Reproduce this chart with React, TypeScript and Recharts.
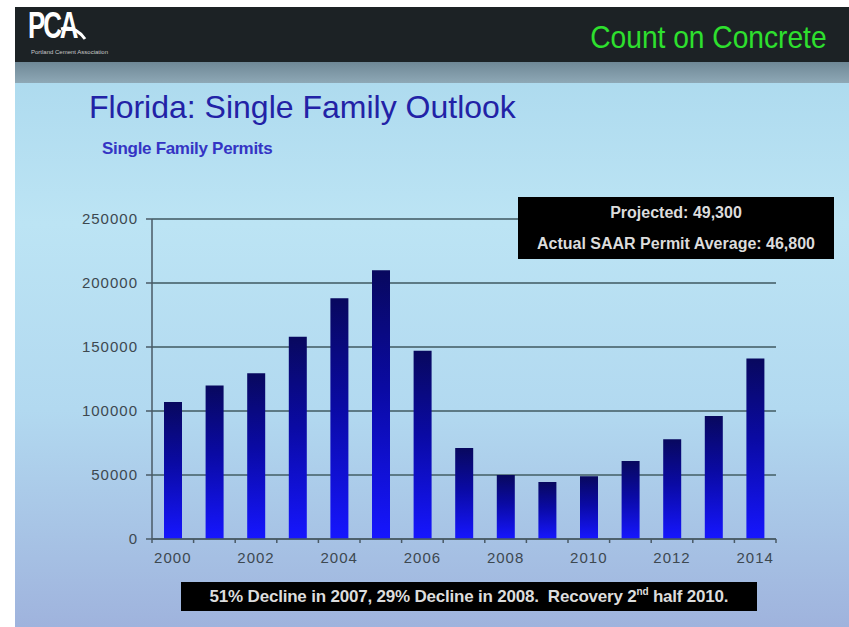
import { BarChart, Bar, XAxis, YAxis, CartesianGrid } from "recharts";

const years = [
  "2000", "2001", "2002", "2003", "2004", "2005", "2006", "2007",
  "2008", "2009", "2010", "2011", "2012", "2013", "2014",
];
const permits = [
  107000, 120000, 129500, 158000, 188000, 210000, 147000, 71000,
  50000, 44500, 49000, 61000, 78000, 96000, 141000,
];
const yTicks = [0, 50000, 100000, 150000, 200000, 250000];

const data = years.map((year, i) => ({ year, permits: permits[i] }));

const axisColor = "#4a5a66";
const labelColor = "#3d4850";
const font = "'Liberation Sans', Arial, sans-serif";

function YearTick(props: any) {
  const { x, y, payload, index } = props;
  const half = payload?.offset ?? 20.8;
  const last = index === years.length - 1;
  return (
    <g>
      <line x1={x - half} x2={x - half} y1={y} y2={y + 4} stroke={axisColor} strokeWidth={1.5} />
      {last && (
        <line x1={x + half} x2={x + half} y1={y} y2={y + 4} stroke={axisColor} strokeWidth={1.5} />
      )}
      {index % 2 === 0 && (
        <text
          x={x}
          y={y + 24}
          textAnchor="middle"
          fill={labelColor}
          fontSize={15}
          letterSpacing={1}
          fontFamily={font}
        >
          {payload.value}
        </text>
      )}
    </g>
  );
}

function Header() {
  return (
    <div style={{ position: "absolute", left: 0, top: 0, width: 834, height: 76 }}>
      <div style={{ position: "absolute", left: 0, top: 0, width: 834, height: 55, background: "#1c2225" }} />
      <div
        style={{
          position: "absolute",
          left: 0,
          top: 55,
          width: 834,
          height: 21,
          background: "linear-gradient(180deg, #6f8896 0%, #8ea8b6 100%)",
        }}
      />
      <div
        style={{
          position: "absolute",
          left: 13,
          top: 0,
          color: "#ffffff",
          fontFamily: font,
          fontWeight: 700,
          fontSize: 36,
          letterSpacing: -3,
          lineHeight: "38px",
          transform: "scaleX(0.72)",
          transformOrigin: "left top",
        }}
      >
        PCA
      </div>
      <svg style={{ position: "absolute", left: 44, top: 14 }} width={40} height={24}>
        <path d="M2 8 Q16 4 26 18" stroke="#ffffff" strokeWidth={3} fill="none" />
      </svg>
      <div
        style={{
          position: "absolute",
          left: 16,
          top: 42,
          color: "#c8c8c8",
          fontFamily: font,
          fontSize: 6,
          whiteSpace: "nowrap",
        }}
      >
        Portland Cement Association
      </div>
      <div
        style={{
          position: "absolute",
          right: 22,
          top: 12,
          color: "#2ee02e",
          fontFamily: font,
          fontSize: 32,
          lineHeight: "36px",
          whiteSpace: "nowrap",
          transform: "scaleX(0.88)",
          transformOrigin: "right top",
        }}
      >
        Count on Concrete
      </div>
    </div>
  );
}

export default function App() {
  return (
    <div
      style={{
        position: "absolute",
        left: 0,
        top: 0,
        width: 849,
        height: 627,
        background: "#ffffff",
        overflow: "hidden",
      }}
    >
      <div
        style={{
          position: "absolute",
          left: 15,
          top: 7,
          width: 834,
          height: 620,
          background:
            "linear-gradient(180deg, #a7d6ec 0%, #bce4f4 35%, #b2d9f0 65%, #9fb3dd 100%)",
        }}
      >
        <Header />
        <div
          style={{
            position: "absolute",
            left: 74,
            top: 82,
            color: "#2222a6",
            fontFamily: font,
            fontSize: 32,
            whiteSpace: "nowrap",
          }}
        >
          Florida: Single Family Outlook
        </div>
        <div
          style={{
            position: "absolute",
            left: 87,
            top: 132,
            color: "#3434c4",
            fontFamily: font,
            fontWeight: 700,
            fontSize: 17,
            letterSpacing: -0.3,
            whiteSpace: "nowrap",
          }}
        >
          Single Family Permits
        </div>
      </div>

      <div style={{ position: "absolute", left: 0, top: 0 }}>
        <BarChart
          width={849}
          height={627}
          data={data}
          margin={{ top: 219, right: 73, left: 0, bottom: 58 }}
        >
          <defs>
            <linearGradient id="barFill" x1="0" y1="0" x2="0" y2="1">
              <stop offset="0%" stopColor="#08085e" />
              <stop offset="45%" stopColor="#0a0aa4" />
              <stop offset="100%" stopColor="#1616ff" />
            </linearGradient>
          </defs>
          <CartesianGrid vertical={false} stroke="#5d7a85" strokeWidth={2} />
          <XAxis
            dataKey="year"
            interval={0}
            height={30}
            tickSize={0}
            tickMargin={0}
            tickLine={false}
            axisLine={{ stroke: axisColor, strokeWidth: 1.5 }}
            tick={<YearTick />}
          />
          <YAxis
            width={152}
            domain={[0, 250000]}
            ticks={yTicks}
            interval={0}
            tickSize={6}
            tickMargin={8}
            axisLine={{ stroke: axisColor, strokeWidth: 1.5 }}
            tickLine={{ stroke: axisColor, strokeWidth: 1.5 }}
            tick={{ fill: labelColor, fontSize: 15, fontFamily: font, letterSpacing: 1 }}
          />
          <Bar dataKey="permits" fill="url(#barFill)" barSize={18} isAnimationActive={false} />
        </BarChart>
      </div>

      <div
        style={{
          position: "absolute",
          left: 518,
          top: 197,
          width: 316,
          height: 62,
          background: "#000000",
          color: "#dcdcdc",
          fontFamily: font,
          fontWeight: 700,
          fontSize: 16,
          textAlign: "center",
          lineHeight: "31px",
        }}
      >
        <div>Projected: 49,300</div>
        <div>Actual SAAR Permit Average: 46,800</div>
      </div>

      <div
        style={{
          position: "absolute",
          left: 181,
          top: 582,
          width: 576,
          height: 29,
          background: "#000000",
          color: "#dcdcdc",
          fontFamily: font,
          fontWeight: 700,
          fontSize: 17,
          letterSpacing: -0.2,
          textAlign: "center",
          lineHeight: "29px",
          whiteSpace: "pre",
        }}
      >
        {"51% Decline in 2007, 29% Decline in 2008.  Recovery 2"}
        <sup style={{ fontSize: 10, lineHeight: 0 }}>nd</sup>
        {" half 2010."}
      </div>
    </div>
  );
}
